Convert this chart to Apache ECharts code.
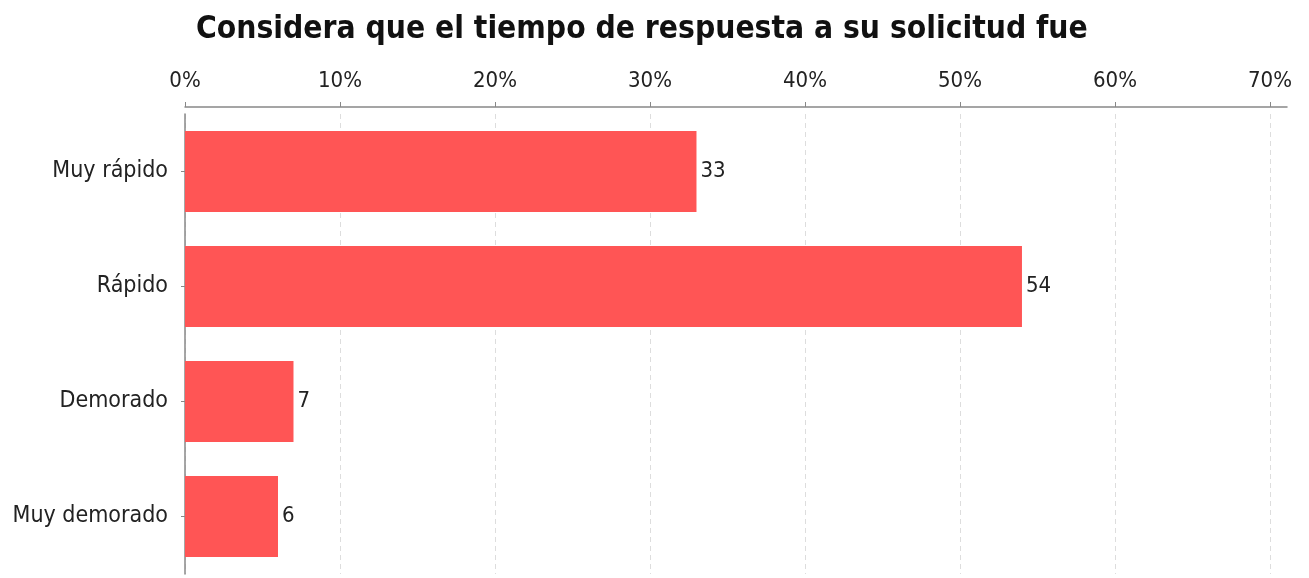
<!DOCTYPE html>
<html>
<head>
<meta charset="utf-8">
<script src="https://cdn.jsdelivr.net/npm/echarts@6/dist/echarts.min.js"></script>
<style>
    html, body { margin: 0; padding: 0; background: #fff; }
    #chart { width: 1309px; height: 578px; }
</style>
</head>
<body>
<div id="chart"></div>
<script>
// categories top to bottom
const categories = ['Muy rápido', 'Rápido', 'Demorado', 'Muy demorado'];
// percentage of answers
const values = [33, 54, 7, 6];
// tick values on the top axis
const tickValues = [0, 10, 20, 30, 40, 50, 60, 70];

const labelFont = 'DejaVu Sans Condensed, DejaVu Sans, sans-serif';

const myChart = echarts.init(document.getElementById('chart'));
const option = {
    backgroundColor: '#fff',
    animation: false,
    title: {
        text: 'Considera que el tiempo de respuesta a su solicitud fue',
        left: 191,
        top: 9,
        textStyle: {
            fontFamily: labelFont,
            fontWeight: 'bold',
            fontSize: 31.5,
            color: '#111'
        }
    },
    grid: {
        left: 185,
        right: 22,
        top: 114,
        bottom: 4
    },
    xAxis: {
        type: 'value',
        position: 'top',
        offset: 7,
        min: 0,
        max: 71.1,
        interval: 10,
        axisLine: { show: true, lineStyle: { color: '#888', width: 1.5 } },
        axisTick: {
            show: true,
            length: 5,
            customValues: tickValues,
            lineStyle: { color: '#888' }
        },
        axisLabel: {
            customValues: tickValues,
            formatter: '{value}%',
            fontFamily: labelFont,
            fontSize: 22,
            color: '#222',
            margin: 15
        },
        splitLine: {
            show: true,
            lineStyle: { color: '#ddd', type: [5, 4] }
        }
    },
    yAxis: {
        type: 'category',
        inverse: true,
        data: categories,
        axisLine: { show: true, lineStyle: { color: '#888', width: 1.5 } },
        axisTick: { show: true, length: 4, alignWithLabel: true, lineStyle: { color: '#888' } },
        axisLabel: {
            fontFamily: labelFont,
            fontSize: 23,
            color: '#222',
            margin: 17
        }
    },
    series: [{
        type: 'bar',
        data: values,
        barWidth: 81,
        itemStyle: { color: '#ff5555' },
        label: {
            show: true,
            position: 'right',
            distance: 4,
            fontFamily: labelFont,
            fontSize: 22,
            color: '#222'
        }
    }]
};
myChart.setOption(option);
</script>
</body>
</html>
